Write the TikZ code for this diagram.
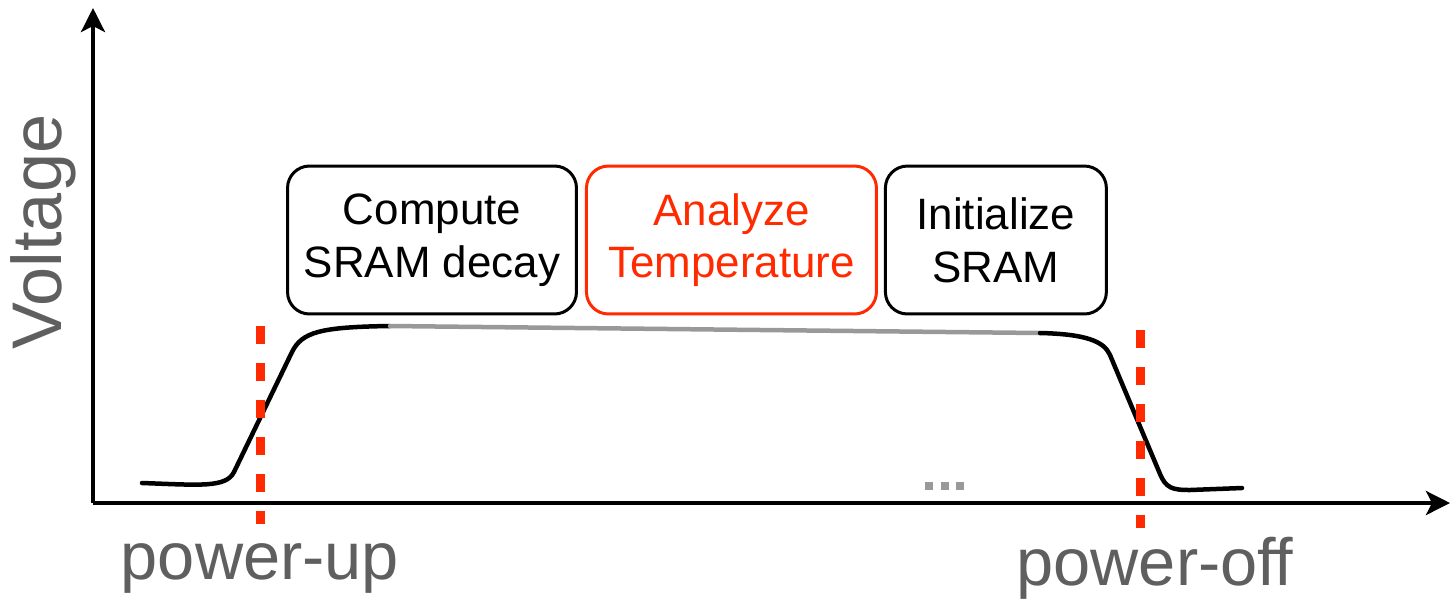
\documentclass[tikz,border=0pt]{standalone}
\usepackage{fontspec}
\setmainfont{Liberation Sans}
\usetikzlibrary{arrows.meta,positioning}
\definecolor{hot}{HTML}{FF2A00}
\definecolor{lbl}{HTML}{5F5F5F}
\definecolor{idle}{HTML}{999999}

\begin{document}
\begin{tikzpicture}[
  x=0.02cm, y=-0.02cm,
  ax/.style={line width=0.08cm, -{Stealth[length=4.8mm, width=4.8mm, inset=1.2mm]}},
  phase/.style={draw, line width=0.06cm, rounded corners=0.44cm, align=center,
    minimum height=2.96cm, inner sep=2pt, font=\fontsize{25}{30}\selectfont},
  wave/.style={line width=0.09cm, line cap=round},
  edge/.style={draw=hot, line width=0.18cm, dash pattern=on 0.36cm off 0.38cm},
  big/.style={text=lbl, font=\fontsize{38}{40}\selectfont}
]
\useasboundingbox (0,0) rectangle (1450,600);

% axes
\coordinate (org) at (93,503);
\coordinate (ytop) at (93,8);
\coordinate (xend) at (1450,503);
\draw[ax] (org) -- (ytop);
\draw[ax] (org) -- (xend);
\node[big, font=\fontsize{40}{42}\selectfont, rotate=90] (vlt) at (43,232) {Voltage};

% phases while powered
\node[phase, minimum width=5.78cm] (decay) at (432,240) {Compute\\SRAM decay};
\node[phase, minimum width=5.8cm, draw=hot, text=hot, right=1.4mm of decay] (temp) {Analyze\\Temperature};
\node[phase, minimum width=4.42cm, right=1.2mm of temp] (init) {Initialize\\SRAM};

% supply voltage
\coordinate (hiL) at (390,326);
\coordinate (hiR) at (1040,333);
\draw[wave] (142,483) .. controls (200,485) and (226,488) .. (234,472) -- (292,352)
  .. controls (302,332) and (320,327) .. (hiL);
\draw[wave, idle] (hiL) -- (hiR);
\draw[wave] (hiR) .. controls (1085,334) and (1104,341) .. (1110,355) -- (1160,474)
  .. controls (1166,488) and (1172,490) .. (1190,490) -- (1242,488);
\foreach \i in {929,945,960}
  \fill[idle] (\i-4,482) rectangle (\i+4,490);

% power-up / power-off markers
\coordinate (puT) at (260,326);
\coordinate (puB) at (260,524);
\coordinate (poT) at (1140,330);
\coordinate (poB) at (1140,528);
\draw[edge] (puT) -- (puB);
\draw[edge] (poT) -- (poB);
\node[big] (pu) at (260,568) {power-up};
\node[big] (po) at (1155,568) {power-off};
\end{tikzpicture}
\end{document}
